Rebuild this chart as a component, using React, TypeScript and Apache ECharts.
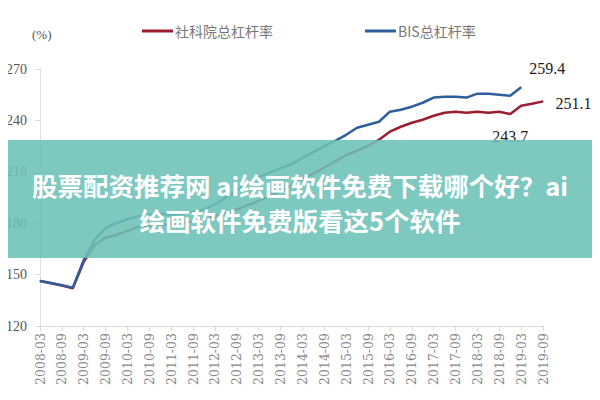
import React, { useEffect, useRef } from "react";
import * as echarts from "echarts";

const categories = [
  "2008-03","2008-06","2008-09","2008-12",
  "2009-03","2009-06","2009-09","2009-12",
  "2010-03","2010-06","2010-09","2010-12",
  "2011-03","2011-06","2011-09","2011-12",
  "2012-03","2012-06","2012-09","2012-12",
  "2013-03","2013-06","2013-09","2013-12",
  "2014-03","2014-06","2014-09","2014-12",
  "2015-03","2015-06","2015-09","2015-12",
  "2016-03","2016-06","2016-09","2016-12",
  "2017-03","2017-06","2017-09","2017-12",
  "2018-03","2018-06","2018-09","2018-12",
  "2019-03","2019-06","2019-09",
];

const cassName = "社科院总杠杆率";
const bisName = "BIS总杠杆率";

const cassValues = [
  146.3, 145.0, 143.6, 142.0,
  157.5, 167.3, 171.5, 173.2,
  175.5, 178.0, 178.7, 179.0,
  179.5, 180.2, 181.0, 182.0,
  184.0, 186.0, 188.0, 190.5,
  193.0, 196.0, 199.0, 202.0,
  206.0, 209.0, 212.5, 216.0,
  219.9, 222.3, 225.2, 228.7,
  233.4, 236.3, 238.6, 240.4,
  242.7, 244.5, 245.1, 244.5,
  245.1, 244.5, 245.1, 243.7,
  248.6, 249.7, 251.1,
];

const bisValues = [
  146.3, 145.1, 143.8, 142.4,
  158.5, 170.3, 177.3, 180.0,
  182.3, 184.0, 185.0, 185.5,
  185.0, 185.5, 186.5, 188.0,
  191.0, 195.0, 199.0, 203.0,
  207.0, 209.5, 212.0, 214.5,
  218.0, 221.5, 225.0, 228.1,
  231.6, 235.7, 237.5, 239.2,
  245.1, 246.2, 248.0, 250.3,
  253.3, 253.8, 253.8, 253.3,
  255.6, 255.6, 255.0, 254.4,
  259.4,
];

const yTicks = { min: 120, max: 270, interval: 30 };

const bannerLine1 = "股票配资推荐网 ai绘画软件免费下载哪个好？ai";
const bannerLine2 = "绘画软件免费版看这5个软件";

const RED = "#9b1d31";
const BLUE = "#2f5f9a";

const numLabel = {
  show: true,
  fontFamily: "Liberation Serif",
  fontSize: 16,
  color: "#222",
};

export default function App() {
  const ref = useRef<HTMLDivElement>(null);

  useEffect(() => {
    if (!ref.current) return;
    const chart = echarts.init(ref.current, null, { renderer: "svg" });

    const cassLastIdx = cassValues.length - 1;
    const cassData = cassValues.map((v, i) => {
      if (i === cassLastIdx) {
        return {
          value: v,
          label: { ...numLabel, position: "right", distance: 12, offset: [0, 2] },
        };
      }
      if (v === 243.7) {
        return {
          value: v,
          label: { ...numLabel, position: "bottom", distance: 14 },
        };
      }
      return v;
    });
    const bisLastIdx = bisValues.length - 1;
    const bisData = bisValues.map((v, i) =>
      i === bisLastIdx
        ? { value: v, label: { ...numLabel, position: "top", distance: 5, offset: [26, -5] } }
        : v
    );

    chart.setOption({
      animation: false,
      backgroundColor: "#ffffff",
      grid: { left: 40, right: 57, top: 69, bottom: 74 },
      legend: {
        top: 19,
        left: 137,
        itemGap: 92,
        itemWidth: 31,
        itemHeight: 3,
        icon: "rect",
        textStyle: {
          fontFamily: "Noto Sans CJK SC",
          fontSize: 14,
          color: "#777",
          padding: [0, 0, 0, -3],
        },
        data: [
          { name: cassName, itemStyle: { color: RED } },
          { name: bisName, itemStyle: { color: BLUE } },
        ],
      },
      xAxis: {
        type: "category",
        data: categories,
        boundaryGap: false,
        axisLine: { lineStyle: { color: "#d9d9d9", width: 1 } },
        axisTick: { interval: 1, length: 5, lineStyle: { color: "#d9d9d9" } },
        axisLabel: {
          interval: 1,
          rotate: 90,
          margin: 7,
          fontFamily: "DejaVu Serif",
          fontSize: 12.5,
          color: "#888",
        },
        splitLine: { show: false },
      },
      yAxis: {
        type: "value",
        min: yTicks.min,
        max: yTicks.max,
        interval: yTicks.interval,
        axisLine: { show: true, lineStyle: { color: "#e0e0e0", width: 1 } },
        axisTick: { show: true, length: 5, lineStyle: { color: "#d9d9d9" } },
        axisLabel: {
          margin: 13,
          fontFamily: "Liberation Serif",
          fontSize: 14,
          color: "#555",
        },
        splitLine: { show: false },
      },
      series: [
        {
          name: cassName,
          type: "line",
          data: cassData,
          symbol: "circle",
          symbolSize: 1,
          showSymbol: true,
          itemStyle: { color: RED },
          lineStyle: { color: RED, width: 2.5 },
          label: { show: false },
          z: 3,
        },
        {
          name: bisName,
          type: "line",
          data: bisData,
          symbol: "circle",
          symbolSize: 1,
          showSymbol: true,
          itemStyle: { color: BLUE },
          lineStyle: { color: BLUE, width: 2.5 },
          label: { show: false },
          z: 4,
        },
      ],
      graphic: [
        {
          type: "text",
          left: 32,
          top: 28,
          style: {
            text: "(%)",
            fontFamily: "Liberation Serif",
            fontSize: 13,
            fill: "#555",
          },
        },
        {
          type: "rect",
          shape: { x: 0, y: 140, width: 600, height: 118 },
          style: { fill: "rgba(108, 194, 182, 0.88)" },
          z: 100,
        },
        {
          type: "text",
          x: 300,
          y: 184,
          style: {
            text: bannerLine1,
            align: "center",
            verticalAlign: "middle",
            fontFamily: "Noto Sans CJK SC",
            fontWeight: "bold",
            fontSize: 25.5,
            fill: "#ffffff",
          },
          z: 101,
        },
        {
          type: "text",
          x: 300,
          y: 219,
          style: {
            text: bannerLine2,
            align: "center",
            verticalAlign: "middle",
            fontFamily: "Noto Sans CJK SC",
            fontWeight: "bold",
            fontSize: 25.5,
            fill: "#ffffff",
          },
          z: 101,
        },
      ],
    });

    return () => chart.dispose();
  }, []);

  return <div ref={ref} style={{ width: 600, height: 400, margin: -8 }} />;
}
